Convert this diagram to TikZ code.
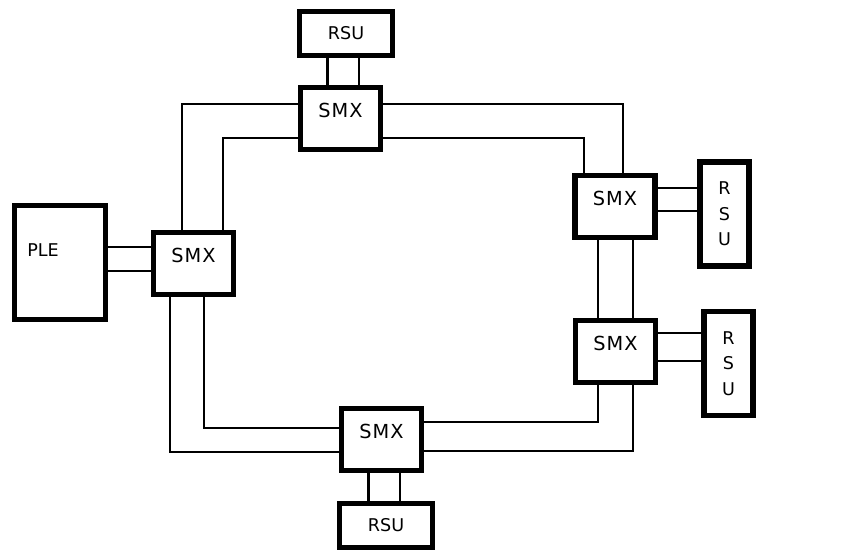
\documentclass[tikz,border=0pt]{standalone}
\usepackage{fontspec}
\setmainfont{DejaVu Sans}
\usetikzlibrary{calc}

\begin{document}
\begin{tikzpicture}[x=0.02cm,y=-0.02cm,
  box/.style={draw,line width=3.2pt,inner sep=0pt},
  smx/.style={box,minimum width=1.6cm,minimum height=1.24cm,
    label={[font=\fontsize{11}{13}\selectfont,yshift=0.16cm]center:S\kern0.6pt M\kern0.6pt X}},
  rsu/.style={box,minimum width=1.86cm,minimum height=0.88cm,font=\fontsize{10}{12}\selectfont},
  rsuv/.style={box,minimum width=0.98cm,minimum height=2.08cm,align=center,font=\fontsize{10}{14.6}\selectfont},
  link/.style={line width=1.3pt}]
\useasboundingbox (0,0) rectangle (844,552);
% units
\node[rsu] (rsuT) at (346,33.5) {RSU};
\node[smx] (smxT) at (340.5,118.5) {};
\node[smx] (smxL) at (193.5,263.5) {};
\node[box,minimum width=1.82cm,minimum height=2.28cm,
  label={[font=\fontsize{10}{12}\selectfont,xshift=-0.34cm,yshift=0.25cm]center:PLE}] (ple) at (60,262.5) {};
\node[smx] (smxR1) at (615,206.5) {};
\node[rsuv] (rsuR1) at (724.5,214) {R\\S\\U};
\node[smx] (smxR2) at (615.5,351.5) {};
\node[rsuv] (rsuR2) at (728.5,363.5) {R\\S\\U};
\node[smx] (smxB) at (381.5,439.5) {};
\node[rsu] (rsuB) at (386,525.5) {RSU};
% taps
\foreach \d in {-13,18.5}{
  \draw[link] ($(smxT.north)+(\d,0)$) coordinate (p) -- (p |- rsuT.south);
  \draw[link] ($(smxB.south)+(\d,0)$) coordinate (p) -- (p |- rsuB.north);
}
\foreach \d in {-16.5,7.5}
  \draw[link] ($(smxL.west)+(0,\d)$) coordinate (p) -- (p -| ple.east);
\foreach \d in {-18.5,4.5}
  \draw[link] ($(smxR1.east)+(0,\d)$) coordinate (p) -- (p -| rsuR1.west);
\foreach \d in {-18.5,9.5}
  \draw[link] ($(smxR2.east)+(0,\d)$) coordinate (p) -- (p -| rsuR2.west);
% ring
\draw[link] ($(smxL.north)+(-11.5,0)$) |- ($(smxT.west)+(0,-14.5)$);
\draw[link] ($(smxL.north)+(29.5,0)$) |- ($(smxT.west)+(0,19.5)$);
\draw[link] ($(smxT.east)+(0,-14.5)$) -| ($(smxR1.north)+(8,0)$);
\draw[link] ($(smxT.east)+(0,19.5)$) -| ($(smxR1.north)+(-31,0)$);
\foreach \d in {-17,18}
  \draw[link] ($(smxR1.south)+(\d,0)$) coordinate (p) -- (p |- smxR2.north);
\draw[link] ($(smxR2.south)+(-17.5,0)$) |- ($(smxB.east)+(0,-17.5)$);
\draw[link] ($(smxR2.south)+(17.5,0)$) |- ($(smxB.east)+(0,11.5)$);
\draw[link] ($(smxL.south)+(-23.5,0)$) |- ($(smxB.west)+(0,12.5)$);
\draw[link] ($(smxL.south)+(10.5,0)$) |- ($(smxB.west)+(0,-11.5)$);
\end{tikzpicture}
\end{document}
